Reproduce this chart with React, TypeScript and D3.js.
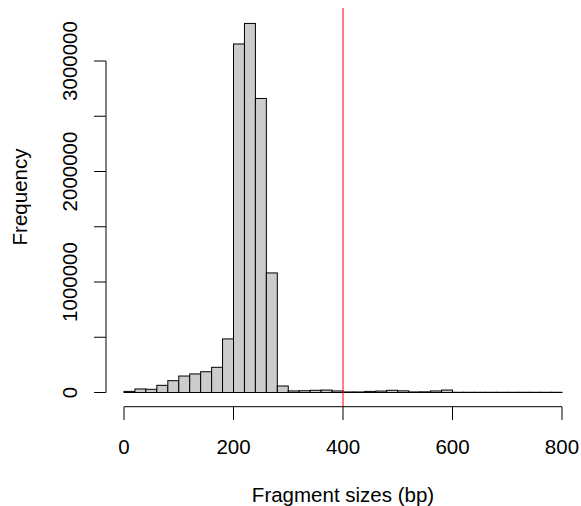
import React from "react";
import * as d3 from "d3";

const binStarts = d3.range(0, 800, 20);
const counts = [
  10000, 32000, 29000, 65000, 107000, 149000, 168000, 188000, 228000, 485000,
  3154000, 3340000, 2661000, 1082000, 59000, 14000, 16000, 20000, 22000, 14000,
  5000, 5000, 10000, 13000, 20000, 15000, 5000, 6000, 14000, 22000,
  2000, 2000, 2000, 2000, 2000, 2000, 2000, 2000, 2000, 2000,
];
const xTicks = [0, 200, 400, 600, 800];
const yTicks = [0, 500000, 1000000, 1500000, 2000000, 2500000, 3000000];
const yTickLabels = [0, 1000000, 2000000, 3000000];
const cutoff = 400;

const W = 581, H = 506;
const FONT = "'Liberation Sans', Arial, Helvetica, sans-serif";
const FS = 20.5;

export default function App() {
  const x = d3.scaleLinear().domain([-32, 832]).range([106.5, 579.5]);
  const y = d3.scaleLinear().domain([0, 3000000]).range([392.5, 61]);
  const plotTop = 8, plotBottom = 406.7, axisX = 106;
  return (
    <svg width={W} height={H} style={{ position: "absolute", left: 0, top: 0, background: "#fff" }}>
      {binStarts.map((b, i) => (
        <rect key={i} x={x(b)} y={y(counts[i])} width={x(b + 20) - x(b)} height={y(0) - y(counts[i])}
          fill="#cccccc" stroke="#000" strokeWidth={1} />
      ))}
      <line x1={x(cutoff)} x2={x(cutoff)} y1={plotTop} y2={plotBottom} stroke="#ff0000" strokeWidth={1} />
      {/* x axis */}
      <line x1={x(0)} x2={x(800)} y1={plotBottom} y2={plotBottom} stroke="#000" />
      {xTicks.map(t => (
        <g key={t}>
          <line x1={x(t)} x2={x(t)} y1={plotBottom} y2={420} stroke="#000" />
          <text x={x(t)} y={453.5} textAnchor="middle" fontFamily={FONT} fontSize={FS}>{t}</text>
        </g>
      ))}
      <text x={(x(0) + x(800)) / 2} y={501.7} textAnchor="middle" fontFamily={FONT} fontSize={FS}>Fragment sizes (bp)</text>
      {/* y axis */}
      <line x1={axisX} x2={axisX} y1={y(3000000)} y2={y(0)} stroke="#000" />
      {yTicks.map(t => (
        <line key={t} x1={axisX} x2={94} y1={y(t)} y2={y(t)} stroke="#000" />
      ))}
      {yTickLabels.map(t => (
        <text key={t} transform={`translate(77,${y(t)}) rotate(-90)`} textAnchor="middle" fontFamily={FONT} fontSize={FS}>{t}</text>
      ))}
      <text transform={`translate(26.5,197) rotate(-90)`} textAnchor="middle" fontFamily={FONT} fontSize={FS}>Frequency</text>
    </svg>
  );
}
